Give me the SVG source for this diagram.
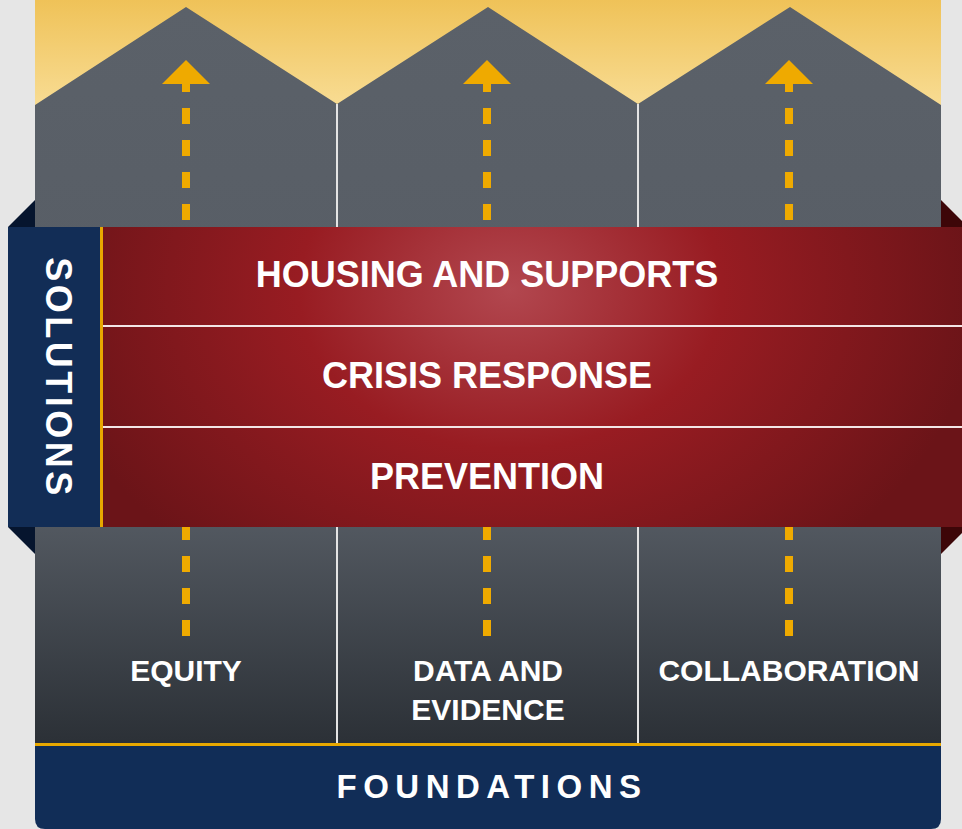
<svg xmlns="http://www.w3.org/2000/svg" width="962" height="829" viewBox="0 0 962 829">
<defs>
<linearGradient id="sky" x1="0" y1="0" x2="0" y2="105" gradientUnits="userSpaceOnUse"><stop offset="0" stop-color="#efc258"/><stop offset="1" stop-color="#f8dc93"/></linearGradient>
<linearGradient id="wall" x1="0" y1="7" x2="0" y2="745" gradientUnits="userSpaceOnUse"><stop offset="0" stop-color="#5b6169"/><stop offset="0.68" stop-color="#555b63"/><stop offset="1" stop-color="#2b3036"/></linearGradient>
<radialGradient id="band" cx="510" cy="290" r="470" gradientUnits="userSpaceOnUse" gradientTransform="translate(510 290) scale(1 0.75) translate(-510 -290)"><stop offset="0" stop-color="#b2474f"/><stop offset="0.45" stop-color="#981c22"/><stop offset="1" stop-color="#6b1418"/></radialGradient>
<style>
.lbl{font-family:"Liberation Sans",Arial,sans-serif;font-weight:700;fill:#ffffff;text-anchor:middle}
.band{font-size:36px}
.col{font-size:30px}
.div{stroke:#e4e4e4;stroke-width:2}
.sep{stroke:#f2e6e6;stroke-width:2}
.dash{stroke:#efaa00;stroke-width:8;stroke-dasharray:16 16;fill:none}
.head{fill:#efaa00}
.foldL{fill:#06152e}
.foldR{fill:#3d0608}
</style>
</defs>
<rect width="962" height="829" fill="#e6e6e6"/>
<rect x="35" y="0" width="906" height="106" fill="url(#sky)"/>
<g id="columns">
<polygon points="35,105 186,7 337,104 488,7 638,104 790,7 941,105 941,745 35,745" fill="url(#wall)"/>
<line class="div" x1="337" y1="104" x2="337" y2="745"/>
<line class="div" x1="638" y1="104" x2="638" y2="745"/>
</g>
<g id="connectors">
<line class="dash" x1="186" y1="76" x2="186" y2="636"/>
<polygon class="head" points="162,84 186,60 210,84"/>
<line class="dash" x1="487" y1="76" x2="487" y2="636"/>
<polygon class="head" points="463,84 487,60 511,84"/>
<line class="dash" x1="789" y1="76" x2="789" y2="636"/>
<polygon class="head" points="765,84 789,60 813,84"/>
</g>
<g id="folds">
<polygon class="foldL" points="8,227 35,200 35,227"/>
<polygon class="foldL" points="8,527 35,527 35,554"/>
<polygon class="foldR" points="941,200 968,227 941,227"/>
<polygon class="foldR" points="941,527 968,527 941,554"/>
</g>
<g id="solutions-band">
<rect x="103" y="227" width="859" height="300" fill="url(#band)"/>
<line class="sep" x1="103" y1="326" x2="962" y2="326"/>
<line class="sep" x1="103" y1="427" x2="962" y2="427"/>
</g>
<g id="housing">
<text class="lbl band" x="487" y="287">HOUSING AND SUPPORTS</text>
</g>
<g id="crisis">
<text class="lbl band" x="487" y="388">CRISIS RESPONSE</text>
</g>
<g id="prevention">
<text class="lbl band" x="487" y="489">PREVENTION</text>
</g>
<g id="solutions">
<rect x="8" y="227" width="92" height="300" fill="#122d56"/>
<rect x="100" y="227" width="3" height="300" fill="#e8a800"/>
<text class="lbl" font-size="36" letter-spacing="3.5" transform="translate(46 378) rotate(90)" x="0" y="0">SOLUTIONS</text>
</g>
<g id="equity">
<text class="lbl col" x="186" y="681">EQUITY</text>
</g>
<g id="data">
<text class="lbl col" x="488" y="681">DATA AND</text>
<text class="lbl col" x="488" y="720">EVIDENCE</text>
</g>
<g id="collaboration">
<text class="lbl col" x="789" y="681">COLLABORATION</text>
</g>
<g id="foundations">
<rect x="35" y="743" width="906" height="3" fill="#e8a800"/>
<path d="M35,746 H941 V819 Q941,829 931,829 H45 Q35,829 35,819 Z" fill="#112d57"/>
<text class="lbl" font-size="33" letter-spacing="6.5" x="492" y="798">FOUNDATIONS</text>
</g>
</svg>
